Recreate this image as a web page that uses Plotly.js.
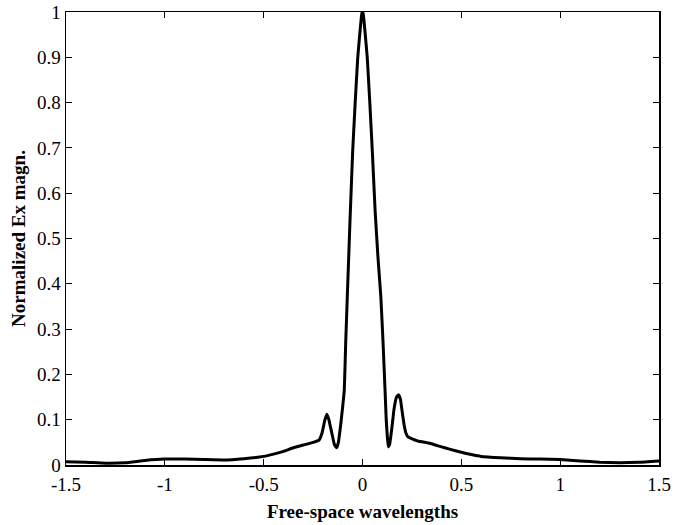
<!DOCTYPE html>
<html>
<head>
<meta charset="utf-8">
<script src="https://cdn.plot.ly/plotly-3.0.1.min.js"></script>
<style>
html,body{margin:0;padding:0;background:#fff;}
#chart{width:686px;height:525px;}
</style>
</head>
<body>
<div id="chart"></div>
<script>
// Position in free-space wavelengths
const xPos = [-1.5, -1.4, -1.3, -1.2, -1.1, -1.0, -0.9, -0.8, -0.7, -0.6,
  -0.5, -0.45, -0.4, -0.35, -0.3, -0.25, -0.22, -0.205, -0.19, -0.18, -0.17,
  -0.155, -0.142, -0.131, -0.122, -0.11, -0.1, -0.092, -0.085, -0.077, -0.064,
  -0.05, -0.037, -0.024, -0.012, -0.004, 0,
  0.004, 0.012, 0.024, 0.037, 0.05, 0.064, 0.078, 0.093, 0.104, 0.114,
  0.12, 0.126, 0.131, 0.137, 0.148, 0.16, 0.172, 0.182, 0.192, 0.2,
  0.21, 0.22, 0.23, 0.24, 0.28, 0.34, 0.4, 0.44, 0.5, 0.55, 0.6, 0.7,
  0.8, 0.9, 1.0, 1.1, 1.2, 1.3, 1.4, 1.5];
// Normalized Ex magnitude
const exMag = [0.007, 0.006, 0.004, 0.005, 0.010, 0.013, 0.013, 0.012, 0.011, 0.014,
  0.019, 0.024, 0.030, 0.038, 0.044, 0.050, 0.055, 0.070, 0.100, 0.112, 0.100,
  0.070, 0.045, 0.038, 0.050, 0.090, 0.130, 0.166, 0.270, 0.370, 0.530,
  0.690, 0.800, 0.900, 0.960, 0.995, 1.000,
  0.995, 0.960, 0.900, 0.800, 0.690, 0.560, 0.460, 0.370, 0.270, 0.166,
  0.100, 0.060, 0.040, 0.045, 0.080, 0.125, 0.150, 0.155, 0.145, 0.120,
  0.090, 0.070, 0.062, 0.060, 0.053, 0.048, 0.040, 0.035, 0.028, 0.023, 0.019, 0.016,
  0.014, 0.013, 0.012, 0.009, 0.006, 0.005, 0.006, 0.009];
const xTickVals = [-1.5, -1, -0.5, 0, 0.5, 1, 1.5];
const xTickText = ['-1.5', '-1', '-0.5', '0', '0.5', '1', '1.5'];
const yTickVals = [0, 0.1, 0.2, 0.3, 0.4, 0.5, 0.6, 0.7, 0.8, 0.9, 1];
const yTickText = ['0', '0.1', '0.2', '0.3', '0.4', '0.5', '0.6', '0.7', '0.8', '0.9', '1'];
const xTitle = 'Free-space wavelengths';
const yTitle = 'Normalized Ex magn.';

const serif = '"Liberation Serif", "DejaVu Serif", serif';

const trace = {
  x: xPos, y: exMag, type: 'scatter', mode: 'lines',
  line: {color: '#000', width: 3, shape: 'spline', smoothing: 0.3},
  hoverinfo: 'skip'
};

const axisCommon = {
  showgrid: false, zeroline: false, showline: true, linecolor: '#000', linewidth: 1.5,
  mirror: 'ticks', ticks: 'inside', ticklen: 6, tickwidth: 1, tickcolor: '#000',
  tickfont: {family: serif, size: 19, color: '#000'}
};

const layout = {
  width: 686, height: 525,
  margin: {l: 66, r: 27, t: 12, b: 60},
  paper_bgcolor: '#fff', plot_bgcolor: '#fff',
  showlegend: false,
  xaxis: Object.assign({}, axisCommon, {
    range: [-1.5, 1.5], tickmode: 'array', tickvals: xTickVals, ticktext: xTickText,
    ticklabelstandoff: 2,
    title: {text: xTitle, font: {family: serif, size: 19, color: '#000', weight: 'bold'}, standoff: 10}
  }),
  yaxis: Object.assign({}, axisCommon, {
    range: [0, 1], tickmode: 'array', tickvals: yTickVals, ticktext: yTickText,
    title: {text: yTitle, font: {family: serif, size: 19, color: '#000', weight: 'bold'}, standoff: 6}
  })
};

Plotly.newPlot('chart', [trace], layout, {displayModeBar: false, staticPlot: true});
</script>
</body>
</html>
